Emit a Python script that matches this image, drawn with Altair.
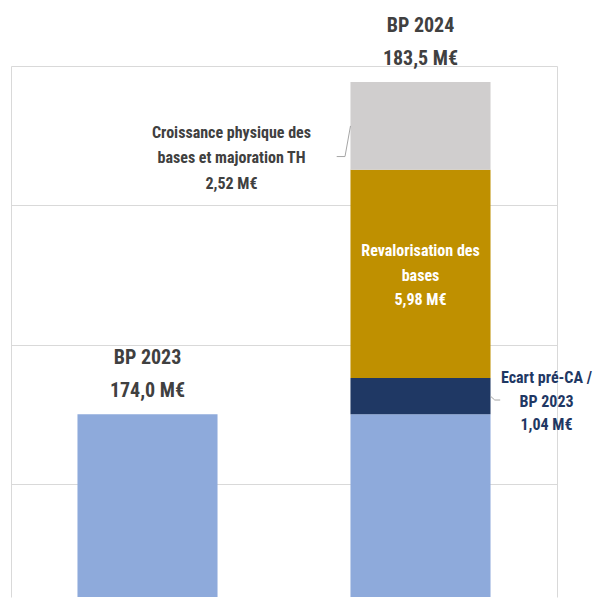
import altair as alt
import pandas as pd

# ---- data ----
categories = ["BP 2023", "BP 2024"]
base_values = [174.0, 174.0]
total_labels = ["BP 2023\n174,0 M€", "BP 2024\n183,5 M€"]
total_values = [174.0, 183.54]

components = ["Ecart pré-CA / BP 2023", "Revalorisation des bases",
              "Croissance physique des bases et majoration TH"]
component_values = [1.04, 5.98, 2.52]
component_labels = ["Ecart pré-CA /\nBP 2023\n1,04 M€",
                    "Revalorisation des\nbases\n5,98 M€",
                    "Croissance physique des\nbases  et majoration TH\n2,52 M€"]

grid_values = [172, 176, 180, 184]

# connector lines (x in category-index units, y in M€)
leader_group = ["g", "g", "g", "e", "e", "e"]
leader_x = [1.2436, 1.2234, 1.193, 1.7564, 1.772, 1.792]
leader_y = [182.28, 181.40, 181.40, 174.52, 174.41, 174.41]

seg_names = ["Base"] + components
seg_colors = ["#8eaadb", "#1f3864", "#bf9000", "#d0cece"]

FONT = "Liberation Sans Narrow, Roboto Condensed, DejaVu Sans Condensed, Arial Narrow, sans-serif"
FRAME = "#d9d9d9"

# ---- build tables ----
rows = []
rows.append({"cat": categories[0], "seg": "Base", "start": 0.0, "end": base_values[0]})
rows.append({"cat": categories[1], "seg": "Base", "start": 0.0, "end": base_values[1]})
acc = base_values[1]
mids = []
for name, v in zip(components, component_values):
    rows.append({"cat": categories[1], "seg": name, "start": acc, "end": acc + v})
    mids.append(acc + v / 2)
    acc += v
bars_df = pd.DataFrame(rows)

totals_df = pd.DataFrame({"cat": categories, "y": total_values, "label": total_labels})
leader_df = pd.DataFrame({"g": leader_group, "x": leader_x, "y": leader_y,
                          "i": list(range(len(leader_x)))})

PLOT_H = 531
ydom = [184.0 - PLOT_H / 34.83, 184.0]
xscale = alt.Scale(domain=categories, paddingInner=0.487, paddingOuter=0.2435)
yscale = alt.Scale(domain=ydom, nice=False, zero=False)
yaxis = alt.Axis(values=grid_values, labels=False, ticks=False, domain=True,
                 domainColor=FRAME, domainWidth=1,
                 title=None, gridColor=FRAME, gridWidth=1)
yaxis_right = alt.Axis(orient="right", values=grid_values, labels=False, ticks=False,
                       domain=True, domainColor=FRAME, domainWidth=1, grid=False, title=None)

bars = alt.Chart(bars_df).mark_bar(clip=True).encode(
    x=alt.X("cat:N", scale=xscale, axis=None, sort=categories),
    y=alt.Y("start:Q", scale=yscale, axis=yaxis),
    y2="end:Q",
    color=alt.Color("seg:N", scale=alt.Scale(domain=seg_names, range=seg_colors), legend=None),
)

tops = alt.Chart(totals_df).mark_text(
    font=FONT, fontSize=20, fontWeight="bold", color="#404040",
    baseline="middle", lineBreak="\n", lineHeight=33, dy=-56.5,
).encode(
    x=alt.X("cat:N", scale=xscale, axis=None, sort=categories),
    y=alt.Y("y:Q", scale=yscale),
    text="label:N",
)

def seg_text(idx, color, dx, dy, lh):
    df = pd.DataFrame({"cat": [categories[1]], "y": [mids[idx]], "label": [component_labels[idx]]})
    return alt.Chart(df).mark_text(
        font=FONT, fontSize=16, fontWeight="bold", color=color,
        baseline="middle", align="center", lineBreak="\n", lineHeight=lh, dx=dx, dy=dy,
    ).encode(
        x=alt.X("cat:N", scale=xscale, axis=None, sort=categories),
        y=alt.Y("y:Q", scale=yscale),
        text="label:N",
    )

t_ecart = seg_text(0, "#1f3864", 126, -18, 23.5)
t_reval = seg_text(1, "#ffffff", 0, -23, 24.7)
t_crois = seg_text(2, "#404040", -189, 7, 25.5)

leaders = alt.Chart(leader_df).mark_line(color="#a6a6a6", strokeWidth=1).encode(
    x=alt.X("x:Q", scale=alt.Scale(domain=[0, 2], nice=False, zero=False), axis=None),
    y=alt.Y("y:Q", scale=yscale, axis=yaxis_right),
    detail="g:N",
    order="i:Q",
)

base_layer = alt.layer(bars, tops, t_ecart, t_reval, t_crois)
chart = alt.layer(base_layer, leaders).resolve_scale(x="independent", y="independent").properties(
    width=546, height=PLOT_H,
    padding={"left": 3, "top": 58, "right": 36, "bottom": 1},
    autosize=alt.AutoSizeParams(type="none"),
).configure_view(stroke=None)

chart.save("out.html", embed_options={"renderer": "svg", "actions": False})
